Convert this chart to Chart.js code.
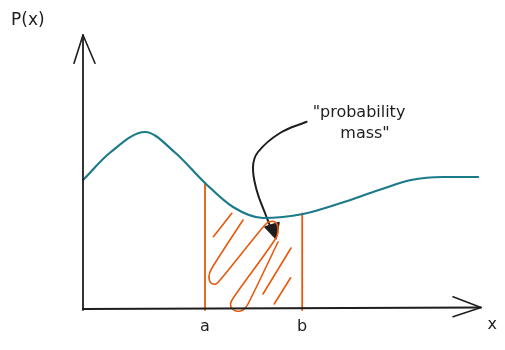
<!DOCTYPE html>
<html>
<head>
<meta charset="utf-8">
<script src="https://cdn.jsdelivr.net/npm/chart.js@4"></script>
<style>
  html, body { margin: 0; padding: 0; background: #fff; }
  #wrap { width: 505px; height: 350px; }
</style>
</head>
<body>
<div id="wrap"><canvas id="chart" width="505" height="350"></canvas></div>
<script>
// density curve P(x)
const curveX = [0, 0.68, 1.55, 2.3, 3.05, 3.75, 4.5, 5.5, 6.45, 7.4, 8.2, 9.0, 9.88];
const curveY = [5.2, 6.3, 7.12, 6.3, 5.08, 4.12, 3.68, 3.84, 4.28, 4.8, 5.2, 5.32, 5.32];

// interval [a, b]
const boundX = [3.05, 5.48];
const boundTop = [5.08, 3.86];
const boundLabels = ['a', 'b'];

// hand drawn hatching inside the interval
const hatchX = [4.0, 3.225, 3.15, 3.2, 3.325, 3.45, 4.525, 4.65, 4.8, 4.875, 4.825, 3.725, 3.7, 3.825, 4.0, 4.125, 4.875];
const hatchY = [3.6, 1.68, 1.36, 1.08, 1.04, 1.24, 3.36, 3.52, 3.52, 3.28, 2.88, 0.4, 0.12, -0.04, 0.0, 0.24, 2.72];
const strokeX = [[3.72, 3.26], [5.2, 4.5], [5.19, 4.78]];
const strokeY = [[3.87, 2.93], [2.48, 0.64], [1.29, 0.24]];

// annotation arrow
const arrowX = [5.59, 4.925, 4.375, 4.25, 4.34, 4.55, 4.675];
const arrowY = [7.53, 7.08, 6.32, 5.72, 4.8, 3.88, 3.36];
const headX = [4.55, 4.9, 4.825, 4.55];
const headY = [3.32, 3.5, 2.85, 3.32];

// axes with arrow heads
const yAxisX = [0, 0];
const yAxisY = [0, 11];
const yHeadX = [-0.225, 0, 0.3];
const yHeadY = [9.87, 11, 9.87];
const xAxisX = [0, 9.95];
const xAxisY = [0.04, 0.1];
const xHeadX = [9.25, 9.95, 9.25];
const xHeadY = [0.53, 0.1, -0.27];

const INK = '#1e1e1e';
const TEAL = '#1b7b8a';
const ORANGE = '#e8590c';
const FONT = '"DejaVu Sans", sans-serif';

function pts(xs, ys) {
  return xs.map((x, i) => ({ x, y: ys[i] }));
}

function line(xs, ys, color, width, extra = {}) {
  return {
    data: pts(xs, ys),
    showLine: true,
    borderColor: color,
    backgroundColor: color,
    borderWidth: width,
    pointRadius: 0,
    clip: false,
    borderCapStyle: 'round',
    borderJoinStyle: 'round',
    ...extra,
  };
}

const datasets = [
  line(yAxisX, yAxisY, INK, 1.8),
  line(yHeadX, yHeadY, INK, 1.6),
  line(xAxisX, xAxisY, INK, 1.8),
  line(xHeadX, xHeadY, INK, 1.6),
  line(curveX, curveY, TEAL, 2.2, { cubicInterpolationMode: 'monotone' }),
];

boundX.forEach((bx, i) => {
  datasets.push(line([bx, bx], [0, boundTop[i]], ORANGE, 1.8));
});

datasets.push(line(hatchX, hatchY, ORANGE, 1.6, { tension: 0.3 }));
strokeX.forEach((sx, i) => {
  datasets.push(line(sx, strokeY[i], ORANGE, 1.6));
});

datasets.push(line(arrowX, arrowY, INK, 2, { tension: 0.4 }));
datasets.push(line(headX, headY, INK, 1.5, { fill: 'shape', backgroundColor: INK }));

// text labels placed through the scales
const textPlugin = {
  id: 'sketchText',
  afterDatasetsDraw(chart) {
    const { ctx, scales } = chart;
    const px = (v) => scales.x.getPixelForValue(v);
    const py = (v) => scales.y.getPixelForValue(v);
    ctx.save();
    ctx.fillStyle = INK;
    ctx.textAlign = 'center';
    ctx.textBaseline = 'middle';
    ctx.font = '16px ' + FONT;

    boundX.forEach((bx, i) => {
      ctx.fillText(boundLabels[i], px(bx), py(0) + 17);
    });
    ctx.fillText('x', px(10.23), py(0) + 15);

    ctx.textAlign = 'left';
    ctx.font = '17px ' + FONT;
    ctx.fillText('P(x)', 11, 21);

    ctx.textAlign = 'center';
    ctx.font = '16px ' + FONT;
    ctx.fillText('"probability', px(6.9), py(7.9));
    ctx.fillText('mass"', px(7.05), py(7.05));
    ctx.restore();
  },
};

new Chart(document.getElementById('chart'), {
  type: 'scatter',
  data: { datasets },
  options: {
    responsive: false,
    animation: false,
    layout: { padding: { left: 83, right: 22, top: 35, bottom: 40 } },
    scales: {
      x: { type: 'linear', min: 0, max: 10, display: false },
      y: { type: 'linear', min: 0, max: 11, display: false },
    },
    plugins: {
      legend: { display: false },
      tooltip: { enabled: false },
    },
  },
  plugins: [textPlugin],
});
</script>
</body>
</html>
